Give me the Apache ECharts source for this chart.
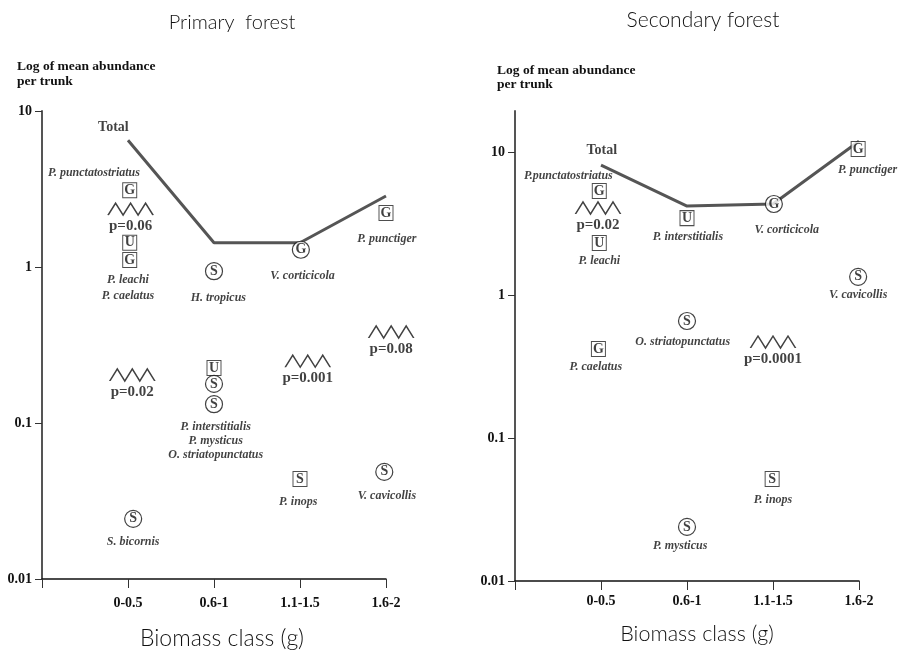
<!DOCTYPE html>
<html><head><meta charset="utf-8">
<script src="https://cdn.jsdelivr.net/npm/echarts@6/dist/echarts.min.js"></script>
<style>html,body{margin:0;padding:0;background:#fff}#c{width:898px;height:652px}</style>
</head><body><div id="c"></div>
<script>
// ---- data (abundance values) ----
const categories = ['0-0.5', '0.6-1', '1.1-1.5', '1.6-2'];
const yTicks = [0.01, 0.1, 1, 10];

// Primary forest
const primaryTotal = [6.5, 1.43, 1.43, 2.85];
const primaryTotalLabel = [0.83, 7.9, 'Total'];
const primarySquares = [[1.02, 3.1, 'G'], [1.02, 1.43, 'U'], [1.02, 1.11, 'G'], [2, 0.225, 'U'], [3, 0.0438, 'S'], [4, 2.22, 'G']];
const primaryCircles = [[2, 0.94, 'S'], [3.01, 1.29, 'G'], [2, 0.178, 'S'], [2, 0.132, 'S'], [3.98, 0.0486, 'S'], [1.06, 0.0243, 'S']];
const primaryTests = [[1.03, 2.35, 'p=0.06'], [1.05, 0.203, 'p=0.02'], [3.09, 0.249, 'p=0.001'], [4.06, 0.383, 'p=0.08']];
const primaryNames = [
  [0.605, 4.0, 'P. punctatostriatus'], [1.0, 0.83, 'P. leachi'], [1.0, 0.65, 'P. caelatus'],
  [2.05, 0.63, 'H. tropicus'], [3.03, 0.875, 'V. corticicola'], [4.01, 1.51, 'P. punctiger'],
  [2.02, 0.094, 'P. interstitialis'], [2.02, 0.077, 'P. mysticus'], [2.02, 0.0624, 'O. striatopunctatus'],
  [2.98, 0.0312, 'P. inops'], [4.01, 0.034, 'V. cavicollis'], [1.06, 0.0173, 'S. bicornis']
];

// Secondary forest
const secondaryTotal = [8.1, 4.19, 4.33, 11.9];
const secondaryTotalLabel = [1.01, 10.2, 'Total'];
const secondarySquares = [[0.98, 5.34, 'G'], [0.98, 2.31, 'U'], [2, 3.45, 'U'], [3.99, 10.5, 'G'], [0.97, 0.419, 'G'], [2.99, 0.0516, 'S']];
const secondaryCircles = [[3.01, 4.33, 'G'], [3.99, 1.34, 'S'], [2, 0.658, 'S'], [2, 0.0239, 'S']];
const secondaryTests = [[0.965, 4.06, 'p=0.02'], [3, 0.469, 'p=0.0001']];
const secondaryNames = [
  [0.62, 6.8, 'P.punctatostriatus'], [0.98, 1.73, 'P. leachi'], [2.01, 2.55, 'P. interstitialis'],
  [3.16, 2.85, 'V. corticicola'], [4.1, 7.5, 'P. punctiger'], [3.99, 1.0, 'V. cavicollis'],
  [1.95, 0.469, 'O. striatopunctatus'], [0.94, 0.314, 'P. caelatus'], [3.0, 0.0368, 'P. inops'],
  [1.92, 0.0176, 'P. mysticus']
];

// ---- chart ----
const L = v => Math.log10(v);
const serif = '"Liberation Serif","Times New Roman",serif';
const sans = 'Lato,"Open Sans","DejaVu Sans",sans-serif';
const zigzag = 'path://M0,12L7,0L14,12L21,0L28,12L35,0L42,12';

function panelSeries(i, total, totalLabel, squares, circles, tests, names) {
  const base = { xAxisIndex: i, yAxisIndex: i, silent: true, clip: false, animation: false };
  const pt = d => ({ value: [d[0], L(d[1])], name: d[2] });
  return [
    Object.assign({}, base, {
      type: 'line', data: total.map((v, k) => [k + 1, L(v)]), symbol: 'none',
      lineStyle: { color: '#555', width: 3 }, z: 2
    }),
    Object.assign({}, base, {
      type: 'scatter', data: squares.map(pt), symbol: 'rect', symbolSize: [14, 15],
      itemStyle: { color: '#fff', borderColor: '#222', borderWidth: 1 },
      label: { show: true, position: 'inside', formatter: '{b}', fontFamily: serif, fontWeight: 'bold', fontSize: 14, color: '#111' },
      z: 4
    }),
    Object.assign({}, base, {
      type: 'scatter', data: circles.map(pt), symbol: 'circle', symbolSize: 17,
      itemStyle: { color: '#fff', borderColor: '#111', borderWidth: 1.2 },
      label: { show: true, position: 'inside', formatter: '{b}', fontFamily: serif, fontWeight: 'bold', fontSize: 14, color: '#111' },
      z: 4
    }),
    Object.assign({}, base, {
      type: 'scatter', data: tests.map(pt), symbol: zigzag, symbolSize: [45, 12],
      itemStyle: { color: 'transparent', borderColor: '#111', borderWidth: 0.9 },
      label: { show: true, position: 'bottom', distance: 3, formatter: '{b}', fontFamily: serif, fontWeight: 'bold', fontSize: 15, color: '#111' },
      z: 3
    }),
    Object.assign({}, base, {
      type: 'scatter', data: names.map(pt), symbolSize: 0,
      label: { show: true, position: 'inside', formatter: '{b}', fontFamily: serif, fontWeight: 'bold', fontStyle: 'italic', fontSize: 12, color: '#111' },
      z: 3
    }),
    Object.assign({}, base, {
      type: 'scatter', data: [pt(totalLabel)], symbolSize: 0,
      label: { show: true, position: 'inside', formatter: '{b}', fontFamily: serif, fontWeight: 'bold', fontSize: 14, color: '#111' },
      z: 3
    })
  ];
}

function xAx(i) {
  return {
    gridIndex: i, type: 'value', min: 0, max: 4, interval: 1,
    axisLine: { show: true, onZero: false, lineStyle: { color: '#111', width: 1.5 } },
    axisTick: { show: true, length: 9, lineStyle: { color: '#333', width: 1 } },
    axisLabel: { formatter: v => categories[v - 1] || '', margin: i ? 13 : 17, fontFamily: serif, fontWeight: 'bold', fontSize: 14, color: '#111' },
    splitLine: { show: false }
  };
}
function yAx(i, max) {
  const cv = yTicks.map(L);
  return {
    gridIndex: i, type: 'value', min: -2, max: max,
    axisLine: { show: true, onZero: false, lineStyle: { color: '#555', width: 2 } },
    axisTick: { show: true, length: 7, customValues: cv, lineStyle: { color: '#333', width: 1 } },
    axisLabel: {
      customValues: cv, margin: 10, fontFamily: serif, fontWeight: 'bold', fontSize: 14, color: '#111',
      formatter: v => { const t = yTicks.find(t => Math.abs(L(t) - v) < 1e-9); return t === undefined ? '' : String(t); }
    },
    splitLine: { show: false }
  };
}

function txt(x, y, text, font, align) {
  return { type: 'text', x: x, y: y, silent: true,
    style: { text: text, font: font, fill: '#111', align: align || 'center', textAlign: align || 'center', verticalAlign: 'middle', textVerticalAlign: 'middle' } };
}

const chart = echarts.init(document.getElementById('c'), null, { renderer: 'canvas' });
chart.setOption({
  animation: false,
  backgroundColor: '#fff',
  grid: [
    { left: 42, top: 111, width: 344, height: 468 },
    { left: 515, top: 111, width: 344, height: 470 }
  ],
  xAxis: [xAx(0), xAx(1)],
  yAxis: [yAx(0, 1), yAx(1, 1.287)],
  series: [].concat(
    panelSeries(0, primaryTotal, primaryTotalLabel, primarySquares, primaryCircles, primaryTests, primaryNames),
    panelSeries(1, secondaryTotal, secondaryTotalLabel, secondarySquares, secondaryCircles, secondaryTests, secondaryNames)
  ),
  graphic: [
    txt(232, 23, 'Primary  forest', '300 20px ' + sans),
    txt(703, 20, 'Secondary forest', '300 21px ' + sans),
    txt(17, 67, 'Log of mean abundance', 'bold 13.5px ' + serif, 'left'),
    txt(17, 82, 'per trunk', 'bold 13.5px ' + serif, 'left'),
    txt(497, 71, 'Log of mean abundance', 'bold 13.5px ' + serif, 'left'),
    txt(497, 85, 'per trunk', 'bold 13.5px ' + serif, 'left'),
    txt(222, 639, 'Biomass class (g)', '300 23px ' + sans),
    txt(697, 634, 'Biomass class (g)', '300 21.5px ' + sans)
  ]
});
</script></body></html>
